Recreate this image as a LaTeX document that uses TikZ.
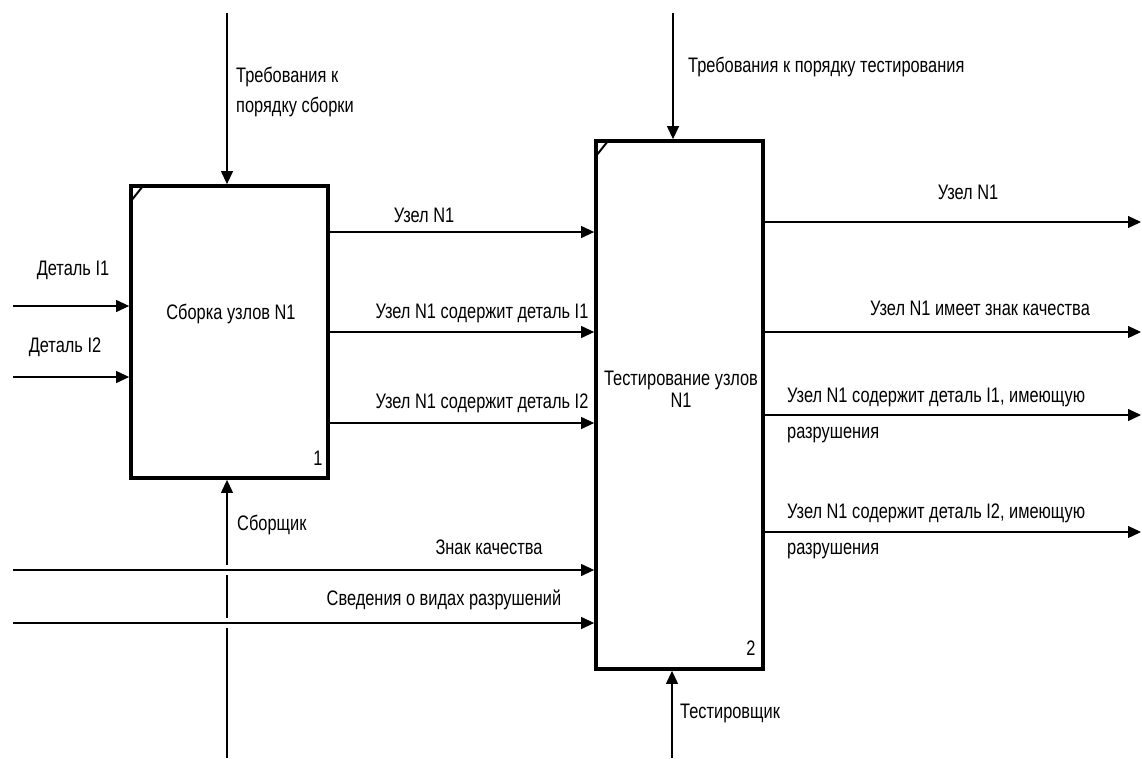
\documentclass[tikz,border=0pt]{standalone}
\usepackage{fontspec}
\setmainfont{Liberation Sans}[FakeStretch=0.78]
\usetikzlibrary{arrows.meta, positioning}
\usetikzlibrary{calc}

\tikzset{
	func/.style={draw, line width=3.8pt, inner sep=0pt},
	arr/.style={line width=1.2pt, -{Triangle[length=13pt,width=12pt]}},
	lbl/.style={inner sep=0pt, font=\fontsize{21}{24}\selectfont},
	corner/.style={line width=2pt},
	bridge/.style={white, line width=5pt}
}

\begin{document}
\begin{tikzpicture}[x=1pt,y=-1pt]
				\path[use as bounding box, fill=white] (0,0) rectangle (1142,758);
				% function boxes
				\node[func, minimum width=197pt, minimum height=292pt] (b1) at (229.5,332) {};
				\node[func, minimum width=167pt, minimum height=528pt] (b2) at (679.5,405) {};
				\draw[corner] ($(b1.north west)+(1,18)$) -- ($(b1.north west)+(13,3)$);
				\draw[corner] ($(b2.north west)+(1,18)$) -- ($(b2.north west)+(13,3)$);
				\node[lbl] (t1) at (231,314) {Сборка узлов N1};
				\node[lbl, align=center, font=\fontsize{21}{22}\selectfont] (t2) at (681,389) {Тестирование узлов\\N1};
				\node[lbl] (n1) at (318,458) {1};
				\node[lbl] (n2) at (751,648) {2};
				% controls
				\coordinate (c1) at (227,13);
				\coordinate (c2) at (673,13);
				\draw[arr] (c1) -- (c1 |- b1.north);
				\draw[arr] (c2) -- (c2 |- b2.north);
				\node[lbl, anchor=west, align=left, font=\fontsize{21}{30}\selectfont] (lc1) at (236,92) {Требования к\\порядку сборки};
				\node[lbl, anchor=west] (lc2) at (688,67) {Требования к порядку тестирования};
				% mechanisms
				\coordinate (m1) at (227,758);
				\coordinate (m2) at (672,758);
				\draw[arr] (m1) -- (m1 |- b1.south);
				\draw[arr] (m2) -- (m2 |- b2.south);
				\node[lbl, anchor=west] (lm1) at (237,525) {Сборщик};
				\node[lbl, anchor=west] (lm2) at (680,713) {Тестировщик};
				% inputs
				\coordinate (i1) at (13,306);
				\coordinate (i2) at (13,377);
				\coordinate (i3) at (13,570);
				\coordinate (i4) at (13,623);
				\draw[arr] (i1) -- (i1 -| b1.west);
				\draw[arr] (i2) -- (i2 -| b1.west);
				\draw[bridge] ($(m1 |- i3)+(0,-5)$) -- ($(m1 |- i3)+(0,5)$);
				\draw[bridge] ($(m1 |- i4)+(0,-5)$) -- ($(m1 |- i4)+(0,5)$);
				\draw[arr] (i3) -- (i3 -| b2.west);
				\draw[arr] (i4) -- (i4 -| b2.west);
				\node[lbl] (li1) at (73,270) {Деталь I1};
				\node[lbl] (li2) at (65,347) {Деталь I2};
				\node[lbl] (li3) at (489,547) {Знак качества};
				\node[lbl] (li4) at (444,600) {Сведения о видах разрушений};
				% box 1 to box 2
				\draw[arr] (b1.east |- 0,232) -- (b2.west |- 0,232);
				\draw[arr] (b1.east |- 0,332) -- (b2.west |- 0,332);
				\draw[arr] (b1.east |- 0,423) -- (b2.west |- 0,423);
				\node[lbl] (lu1) at (424,215) {Узел N1};
				\node[lbl] (lu2) at (482,313) {Узел N1 содержит деталь I1};
				\node[lbl] (lu3) at (482,403) {Узел N1 содержит деталь I2};
				% outputs
				\coordinate (o1) at (1141,222);
				\coordinate (o2) at (1141,332);
				\coordinate (o3) at (1141,415);
				\coordinate (o4) at (1141,532);
				\draw[arr] (o1 -| b2.east) -- (o1);
				\draw[arr] (o2 -| b2.east) -- (o2);
				\draw[arr] (o3 -| b2.east) -- (o3);
				\draw[arr] (o4 -| b2.east) -- (o4);
				\node[lbl] (lo1) at (968,192) {Узел N1};
				\node[lbl] (lo2) at (980,308) {Узел N1 имеет знак качества};
				\node[lbl, anchor=west, align=left, font=\fontsize{21}{36}\selectfont] (lo3) at (787,415) {Узел N1 содержит деталь I1, имеющую\\разрушения};
				\node[lbl, anchor=west, align=left, font=\fontsize{21}{36}\selectfont] (lo4) at (787,531.5) {Узел N1 содержит деталь I2, имеющую\\разрушения};
\end{tikzpicture}
\end{document}
